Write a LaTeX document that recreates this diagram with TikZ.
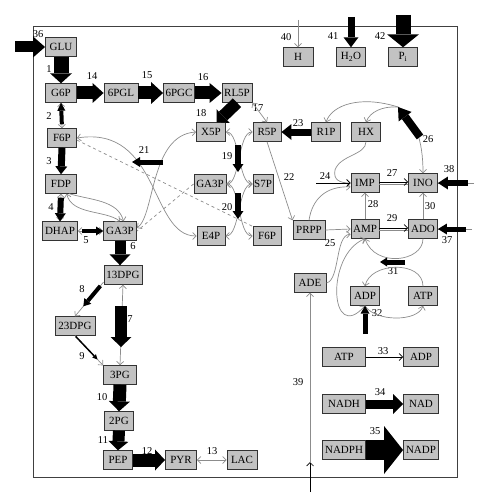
\documentclass[tikz,border=0pt]{standalone}
\usepackage{fontspec}
\setmainfont{Liberation Serif}
\usetikzlibrary{arrows.meta}

\definecolor{fond}{gray}{0.76}
\definecolor{trait}{gray}{0.55}

\tikzset{
  meta/.style={draw=black!80, fill=fond, line width=0.9pt, minimum height=18.5pt,
    inner xsep=2.5pt, inner ysep=1pt, font=\fontsize{11}{12}\selectfont},
  num/.style={inner sep=0pt, font=\fontsize{10.5}{12}\selectfont},
  gris/.style={draw=trait, line width=0.7pt},
  fleche/.style n args={3}{draw=black, line width=#1,
    -{Triangle[width=#2, length=#3, line width=0pt]}},
}

\begin{document}
\begin{tikzpicture}[x=1pt,y=-1pt,>={Straight Barb[length=3.5pt,width=7pt]}] % schéma du métabolisme du globule rouge

\useasboundingbox (0,0) rectangle (485,500);
\draw[line width=1pt,black!75] (33,27) rectangle (457,477); % cadre

\foreach \nom/\x/\y/\l/\texte in {glu/61/47/31/GLU, g6p/61/93/31/G6P, pgl/121/93/34/6PGL,
  pgc/179/93/31/6PGC, rl5p/237/93/30/RL5P, f6pa/62/138/29/F6P, fdp/61/184/31/FDP,
  dhap/60/231/35/DHAP, ga3pa/120/231/33/GA3P, x5p/211/132/29/X5P, r5p/267/132/28/R5P,
  r1p/326/132/29/R1P, hx/366/132/29/HX, ga3pb/210/184/32/GA3P, s7p/263/184/20/S7P,
  e4p/211/236/28/E4P, f6pb/267/236/28/F6P, prpp/309/230/32/PRPP, imp/365/183/28/IMP,
  ino/423/183/29/INO, amp/365/229/28/AMP, ado/423/229/29/ADO, h/298/57/30/H,
  h2o/351/57/29/{H\textsubscript{2}O}, pi/403/57/29/{P\textsubscript{i}},
  ade/310/283/32/ADE, adpa/365/296/29/ADP, atpa/423/296/29/ATP,
  atpb/344/357/43/ATP, adpb/421/357/35/ADP, nadh/344/404/43/NADH, nad/421/404/35/NAD,
  nadph/344/450/43/NADPH, nadp/421/450/35/NADP, dpga/123/275/38/13DPG,
  dpgb/75/326/40/23DPG, pg3/120/375/33/3PG, pg2/119/421/29/2PG, pep/118/460/29/PEP,
  pyr/181/460/31/PYR, lac/242/460/30/LAC} % métabolites
{
	\node[meta, minimum width=\l pt, inner xsep=1pt] (\nom) at (\x,\y) {\texte};
}

\foreach \n/\x/\y in {1/49/69, 2/49/116, 3/49/161, 4/51/207, 5/86/240, 6/133/246,
  7/130/319, 8/82/289, 9/82/356, 10/102/397, 11/103/440, 12/147/451, 13/212/451,
  14/92/76, 15/147/75, 16/203/77, 17/258/108, 18/201/113, 19/227/156, 20/227/207,
  21/144/150, 22/289/177, 23/298/123, 24/325/176, 25/330/243, 26/428/139, 27/392/173,
  28/373/204, 29/392/218, 30/430/206, 31/393/271, 32/377/313, 33/383/351, 34/380/392,
  35/375/431, 36/38/34, 37/447/240, 38/449/169, 39/298/382, 40/286/37, 41/333/36,
  42/380/36} % numéros des réactions
{
	\node[num] (n\n) at (\x,\y) {\n};
}

\coordinate (c36) at (15,47);
\coordinate (c40) at (298,20);
\coordinate (c41) at (351,17);
\coordinate (c42) at (403,15);
\coordinate (c37) at (466,229);
\coordinate (c37g) at (472,229);
\coordinate (c38) at (468,183);
\coordinate (c38g) at (474,183);
\coordinate (c39a) at (310,492);
\coordinate (c39b) at (310,462);
\coordinate (c24) at (316,183);
\coordinate (c26a) at (420,137);
\coordinate (c26) at (398,107);
\coordinate (c7a) at (121,306);
\coordinate (c7b) at (121,347);
\coordinate (c19a) at (238,145);
\coordinate (c19b) at (238,172);
\coordinate (c20a) at (238,193);
\coordinate (c20b) at (238,219);
\coordinate (c21a) at (163,162);
\coordinate (c21b) at (132,162);
\coordinate (c31a) at (405,262);
\coordinate (c31b) at (380,262);
\coordinate (c32) at (365,334);

% traits gris (réactions réversibles)
\draw[gris,<->] (g6p.south) -- (f6pa.north);
\draw[gris,<->] (fdp.south) -- (dhap.north);
\draw[gris,<->] (dhap.east) -- (ga3pa.west);
\draw[gris,<->] (fdp.-60) .. controls (72,215) and (105,210) .. (ga3pa.north);
\draw[gris,->] (fdp.-50) .. controls (90,200) and (118,200) .. (ga3pa.70);
\draw[gris,<->] (dpga.south) -- (pg3.north);
\draw[gris,->] (dpga.200) -- (dpgb.north);
\draw[gris,->] (dpgb.south) -- (pg3.north west);
\draw[gris,<->] (pyr.east) -- (lac.west);
\draw[gris,<->] (rl5p.south east) -- (r5p.north);
\draw[gris,<->] (x5p.east) .. controls (240,132) and (238,184) .. (s7p.west);
\draw[gris,<->] (r5p.west) .. controls (238,132) and (240,184) .. (ga3pb.east);
\draw[gris,<->] (ga3pb.east) .. controls (240,184) and (238,236) .. (f6pb.west);
\draw[gris,<->] (s7p.west) .. controls (238,184) and (240,236) .. (e4p.east);
\draw[gris,<->] (f6pa.east) .. controls (160,125) and (150,236) .. (e4p.west);
\draw[gris,<->] (x5p.west) .. controls (150,135) and (155,215) .. (ga3pa.10);
\draw[gris,dashed] (f6pa.-8) -- (f6pb.north west);
\draw[gris,dashed] (ga3pb.west) -- (ga3pa.east);
\draw[gris,->] (r5p.south) -- (prpp.north west);
\draw[gris,->] (prpp.east) -- (amp.west);
\draw[gris,->] (prpp.north) .. controls (312,200) and (325,186) .. (imp.195);
\draw[gris,->] (hx.south) .. controls (366,155) and (340,155) .. (335,170) .. controls (333,180) and (340,183) .. (imp.west);
\draw[gris,<-] (ino.north) .. controls (423,140) and (415,118) .. (c26);
\draw[gris,->] (c26) .. controls (360,95) and (332,105) .. (r1p.north);
\draw[gris,->] (c26) .. controls (382,106) and (370,112) .. (hx.north);
\draw[gris,line width=1.2pt] ([yshift=-1.2pt]imp.east) -- ([yshift=-1.2pt]ino.west);
\draw[black,line width=0.6pt,->] ([yshift=1pt]imp.east) -- ([yshift=1pt]ino.west);
\draw[gris,line width=1.2pt] ([yshift=-1.2pt]amp.east) -- ([yshift=-1.2pt]ado.west);
\draw[black,line width=0.6pt,->] ([yshift=1pt]amp.east) -- ([yshift=1pt]ado.west);
\draw[gris,->] (amp.north) -- (imp.south);
\draw[gris,->] (ado.north) -- (ino.south);
\draw[gris,->] (ade.east) .. controls (340,280) and (335,235) .. (amp.200);
\draw[gris,->] (ado.south) .. controls (423,262) and (375,268) .. (amp.south);
\draw[gris,->] (atpa.north) .. controls (423,260) and (370,262) .. (adpa.north);
\draw[gris,<->] (amp.south) .. controls (325,255) and (330,345) .. (adpa.south);
\draw[gris,->] (adpa.south) .. controls (375,322) and (418,322) .. (atpa.south);
\draw[gris,->] (c40) -- (h.north);
\draw[gris,->] (c39b) -- (ade.south);
\draw[gris] (c37g) -- (ado.east);
\draw[gris] (c38g) -- (ino.east);

% flèches noires (flux)
\draw[fleche={11pt}{21pt}{12pt}] (c36) -- (glu.west);
\draw[fleche={15pt}{22pt}{10pt}] (glu.south) -- (g6p.north);
\draw[fleche={13pt}{20pt}{11pt}] (g6p.east) -- (pgl.west);
\draw[fleche={13pt}{22pt}{12pt}] (pgl.east) -- (pgc.west);
\draw[fleche={13pt}{20pt}{12pt}] (pgc.east) -- (rl5p.west);
\draw[fleche={12pt}{19pt}{9pt}] (rl5p.south) -- (x5p.60);
\draw[fleche={4pt}{8pt}{8pt},shorten <=4pt] (f6pa.north) -- (g6p.south);
\draw[fleche={7pt}{12pt}{8pt}] (f6pa.south) -- (fdp.north);
\draw[fleche={6pt}{11pt}{8pt},shorten <=4pt] (fdp.south) -- (dhap.north);
\draw[fleche={4pt}{9pt}{7pt},shorten <=4pt] (dhap.east) -- (ga3pa.west);
\draw[fleche={11pt}{21pt}{11pt}] (ga3pa.south) -- (ga3pa.south |- dpga.north);
\draw[fleche={12pt}{21pt}{10pt}] (c7a) -- (c7b);
\draw[fleche={4pt}{9pt}{7pt},shorten <=5pt,shorten >=13pt] (dpga.200) -- (dpgb.north);
\draw[fleche={1.5pt}{5pt}{5pt},shorten <=1pt,shorten >=8pt] (dpgb.south) -- (pg3.north west);
\draw[fleche={13pt}{21pt}{10pt}] (pg3.south) -- (pg2.north);
\draw[fleche={12pt}{20pt}{9pt}] (pg2.south) -- (pep.north);
\draw[fleche={13pt}{21pt}{10pt}] (pep.east) -- (pyr.west);
\draw[fleche={6pt}{11pt}{8pt}] (c19a) -- (c19b);
\draw[fleche={6pt}{11pt}{8pt}] (c20a) -- (c20b);
\draw[fleche={5pt}{10pt}{8pt}] (c21a) -- (c21b);
\draw[fleche={7pt}{16pt}{10pt}] (r1p.west) -- (r5p.east);
\draw[black,line width=0.7pt,->] (c24) -- (imp.west);
\draw[fleche={8pt}{16pt}{12pt}] (c26a) -- (c26);
\draw[fleche={5pt}{9pt}{7pt}] (c31a) -- (c31b);
\draw[fleche={5pt}{9pt}{8pt}] (c32) -- (adpa.south);
\draw[black,line width=0.7pt,->] (atpb.east) -- (adpb.west);
\draw[fleche={9pt}{20pt}{10pt}] (nadh.east) -- (nad.west);
\draw[fleche={20pt}{48pt}{19pt}] (nadph.east) -- (nadp.west);
\draw[fleche={5pt}{11pt}{9pt}] (c37) -- (ado.east);
\draw[fleche={6pt}{13pt}{10pt}] (c38) -- (ino.east);
\draw[black,line width=0.7pt,->] (c39a) -- (c39b);
\draw[fleche={7pt}{15pt}{10pt}] (c41) -- (h2o.north);
\draw[fleche={15pt}{32pt}{13pt}] (c42) -- (pi.north);

\end{tikzpicture}
\end{document}
